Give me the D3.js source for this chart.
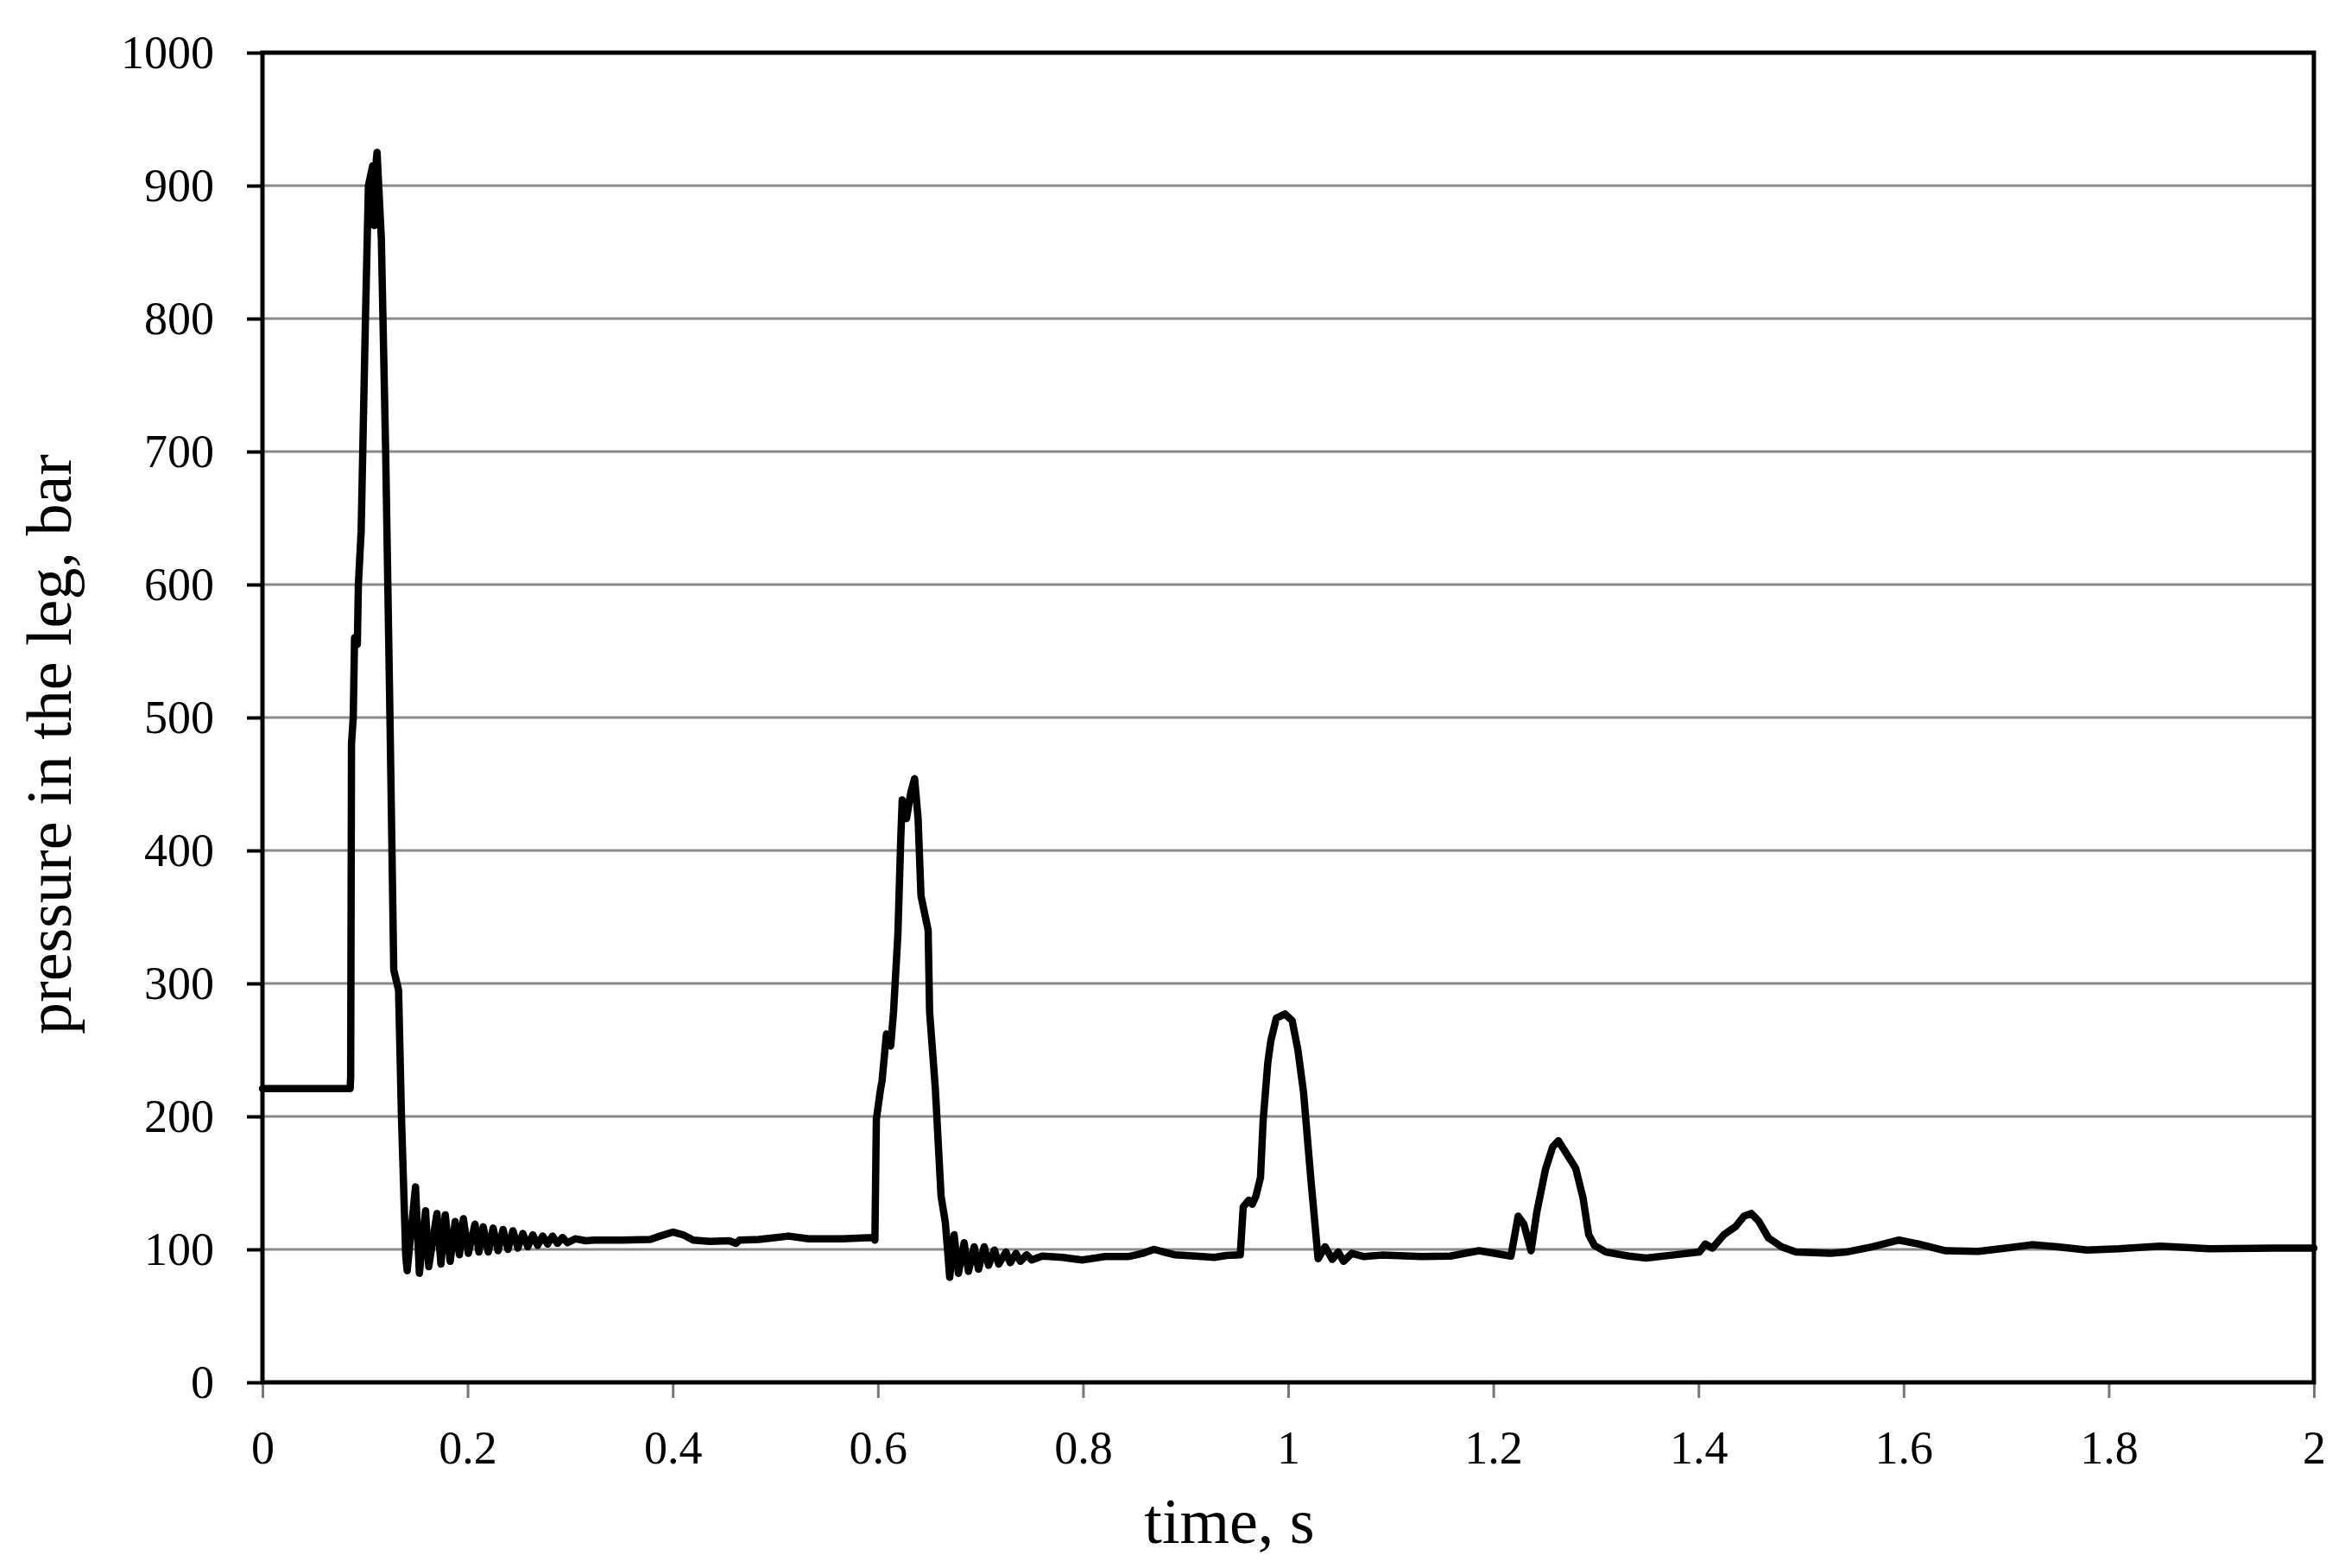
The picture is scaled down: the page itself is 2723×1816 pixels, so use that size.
<!DOCTYPE html>
<html>
<head>
<meta charset="utf-8">
<script src="https://cdn.jsdelivr.net/npm/d3@7"></script>
<style>
  html, body { margin: 0; padding: 0; background: #ffffff; }
  svg { display: block; }
  text { font-family: "Liberation Serif", "Times New Roman", serif; fill: #000; }
</style>
</head>
<body>
<svg id="chart" width="2723" height="1816"></svg>
<script>
// ---- data ----
const timeS = [
  0, 0.0855, 0.086, 0.0868, 0.0885, 0.0898, 0.0925, 0.0935, 0.0962, 0.1004, 0.1033, 0.1075, 0.109, 0.1105, 0.1117, 0.113,
  0.1159, 0.1201, 0.1243, 0.128, 0.1327, 0.1355, 0.1397, 0.1411, 0.1492, 0.153, 0.159, 0.1621, 0.1701, 0.174, 0.1782,
  0.183, 0.1879, 0.192, 0.1959, 0.2007, 0.2072, 0.211, 0.2152, 0.2201, 0.2249, 0.2297, 0.2346, 0.2394, 0.2442, 0.249,
  0.2538, 0.2587, 0.2635, 0.2683, 0.2732, 0.278, 0.2828, 0.2877, 0.2925, 0.2974, 0.305, 0.315, 0.323, 0.35, 0.378,
  0.3875, 0.4, 0.41, 0.42, 0.436, 0.455, 0.4617, 0.465, 0.484, 0.513, 0.5325, 0.5647, 0.5953,
  0.5971, 0.5985, 0.6027, 0.6041, 0.6083, 0.6125, 0.6153, 0.6195, 0.6223, 0.6237, 0.6279, 0.6322, 0.6358, 0.6392, 0.642,
  0.649, 0.6504, 0.656, 0.6616, 0.6658, 0.67, 0.6743, 0.6785, 0.6841, 0.6883, 0.6939, 0.6981, 0.7037, 0.7079, 0.7136,
  0.7178, 0.7248, 0.729, 0.7346, 0.739, 0.745, 0.75, 0.76, 0.78, 0.7991, 0.8215, 0.844, 0.858, 0.8692, 0.879, 0.889,
  0.91, 0.928, 0.94, 0.9533, 0.9562, 0.9617, 0.965, 0.9685, 0.973, 0.9756, 0.9801, 0.9831, 0.9885, 0.9969, 1.0039,
  1.0095, 1.015, 1.022, 1.0292, 1.036, 1.043, 1.0488, 1.054, 1.062, 1.074, 1.0909, 1.13, 1.158, 1.186, 1.2172, 1.2242,
  1.2298, 1.2368, 1.2424, 1.2508, 1.2578, 1.2635, 1.2705, 1.2803, 1.2874, 1.293, 1.2986, 1.3098, 1.3322, 1.3491, 1.3743,
  1.401, 1.4066, 1.4136, 1.4248, 1.436, 1.4444, 1.4515, 1.4585, 1.4683, 1.481, 1.495, 1.5286, 1.544, 1.57, 1.5955,
  1.615, 1.641, 1.673, 1.7, 1.725, 1.75, 1.779, 1.81, 1.85, 1.898, 1.963, 2.0
];
const pressureBar = [
  221, 221, 230, 480, 500, 560, 555, 600, 640, 800, 900, 915, 870, 915, 925, 905,
  860, 700, 500, 310, 295, 200, 95, 84, 147, 82, 129, 87, 127, 89, 126,
  91, 121, 96, 123, 97, 119, 98, 117, 98, 116, 99, 115, 100, 114, 101,
  112, 102, 111, 103, 110, 104, 110, 104.5, 109, 105, 108, 106.5, 107, 107, 107.5,
  110, 113, 111, 107, 106, 106.5, 104.5, 107, 107.5, 110, 108, 108, 109,
  107, 198, 221, 227, 262, 253, 279, 337, 409, 438, 424, 444, 454, 424, 366,
  340, 279, 221, 140, 120, 79, 111, 82, 105, 83.5, 102, 85, 102, 88, 99.5,
  89, 98, 90, 97, 91, 96, 92, 95, 94, 92, 94.6, 94.6, 97, 100, 98, 96,
  95, 94, 95.5, 96, 132, 137, 134, 140, 154, 197, 240, 257, 274, 277, 272,
  250, 218, 154, 93, 102, 92.5, 98, 91, 97, 94.6, 95.7, 94.6, 95, 99, 95, 125,
  119, 99, 128, 160, 177, 181.7, 173, 161, 139, 111, 103, 98, 95, 93.5, 95.7,
  98, 104, 101, 111, 117, 125, 127, 121.5, 108.6, 102, 98, 97, 98, 102, 107,
  104, 99, 98.5, 101, 103.5, 102, 99.5, 100.5, 102.5, 100.5, 101, 101
];
const xTicks = [0, 0.2, 0.4, 0.6, 0.8, 1, 1.2, 1.4, 1.6, 1.8, 2];
const yTicks = [0, 100, 200, 300, 400, 500, 600, 700, 800, 900, 1000];
const xTitle = "time, s";
const yTitle = "pressure in the leg, bar";

// ---- layout ----
const W = 2723, H = 1816;
const plot = { left: 304, right: 2680, top: 61, bottom: 1601 };

const svg = d3.select("#chart");
svg.append("rect").attr("width", W).attr("height", H).attr("fill", "#fff");

const x = d3.scaleLinear().domain([0, 2]).range([plot.left, plot.right]);
const y = d3.scaleLinear().domain([0, 1000]).range([plot.bottom, plot.top]);

// gridlines
svg.append("g")
  .selectAll("line")
  .data(yTicks.filter(v => v > 0 && v < 1000))
  .join("line")
  .attr("x1", plot.left).attr("x2", plot.right)
  .attr("y1", d => y(d)).attr("y2", d => y(d))
  .attr("stroke", "#8a8a8a").attr("stroke-width", 3);

// y axis
const yAxis = svg.append("g")
  .attr("transform", `translate(${plot.left},0)`)
  .call(d3.axisLeft(y).tickValues(yTicks).tickSize(18).tickPadding(38).tickSizeOuter(0).tickFormat(d3.format("d")));
yAxis.select(".domain").remove();
yAxis.selectAll(".tick line").attr("stroke", "#000").attr("stroke-width", 4);
yAxis.selectAll("text").attr("font-size", 54).attr("font-family", "Liberation Serif");

// x axis
const xAxis = svg.append("g")
  .attr("transform", `translate(0,${plot.bottom})`)
  .call(d3.axisBottom(x).tickValues(xTicks).tickSize(18).tickPadding(38).tickSizeOuter(0).tickFormat(d => String(+d.toFixed(1))));
xAxis.select(".domain").remove();
xAxis.selectAll(".tick line").attr("stroke", "#777").attr("stroke-width", 3);
xAxis.selectAll("text").attr("font-size", 54).attr("font-family", "Liberation Serif");

// frame
svg.append("rect")
  .attr("x", plot.left).attr("y", plot.top)
  .attr("width", plot.right - plot.left).attr("height", plot.bottom - plot.top)
  .attr("fill", "none").attr("stroke", "#000").attr("stroke-width", 5);

// data line
const pts = timeS.map((t, i) => [t, pressureBar[i]]);
const line = d3.line().x(d => x(d[0])).y(d => y(d[1])).curve(d3.curveLinear);
svg.append("path")
  .datum(pts)
  .attr("d", line)
  .attr("fill", "none")
  .attr("stroke", "#000")
  .attr("stroke-width", 8.5)
  .attr("stroke-linejoin", "round")
  .attr("stroke-linecap", "round");

// titles
svg.append("text")
  .attr("x", 1424).attr("y", 1787)
  .attr("text-anchor", "middle")
  .attr("font-size", 74)
  .text(xTitle);

svg.append("text")
  .attr("transform", `translate(82,862) rotate(-90)`)
  .attr("text-anchor", "middle")
  .attr("font-size", 74)
  .text(yTitle);
</script>
</body>
</html>
